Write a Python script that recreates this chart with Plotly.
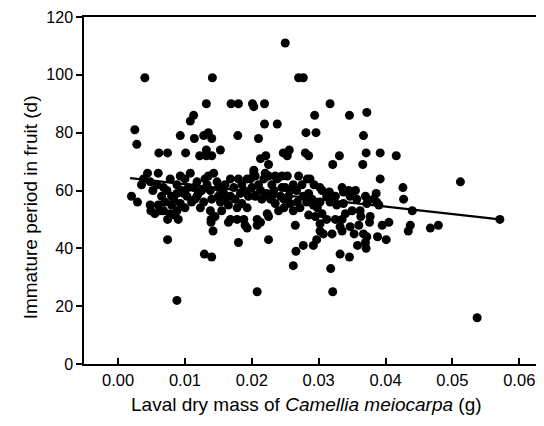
import plotly.graph_objects as go

# Scatter data: larval dry mass (g) vs immature period (d)
mass = [
    0.0040, 0.0141, 0.0250, 0.0270, 0.0277,
    0.0132, 0.0169, 0.0180, 0.0201, 0.0203, 0.0219, 0.0317,
    0.0113, 0.0108, 0.0294, 0.0346, 0.0372,
    0.0025, 0.0028, 0.0093, 0.0114, 0.0128, 0.0135, 0.0140, 0.0179, 0.0210, 0.0219, 0.0238, 0.0281, 0.0296, 0.0367,
    0.0061, 0.0074, 0.0101, 0.0122, 0.0132, 0.0132, 0.0140, 0.0153, 0.0221, 0.0213, 0.0225, 0.0247, 0.0256, 0.0253,
    0.0280, 0.0285, 0.0331, 0.0321, 0.0371, 0.0392, 0.0416, 0.0366,
    0.0203, 0.0203,
    0.0392, 0.0426, 0.0512, 0.0427, 0.0440,
    0.0020, 0.0029, 0.0074, 0.0088, 0.0129, 0.0140, 0.0180, 0.0225, 0.0208, 0.0265, 0.0266, 0.0262, 0.0277, 0.0292, 0.0297,
    0.0142, 0.0139, 0.0139, 0.0165, 0.0178, 0.0190, 0.0213, 0.0223, 0.0074, 0.0090, 0.0049, 0.0063, 0.0048, 0.0060,
    0.0318, 0.0321, 0.0537, 0.0571, 0.0332, 0.0346,
    0.0307, 0.0320, 0.0335, 0.0353, 0.0358, 0.0371, 0.0370, 0.0372, 0.0388, 0.0401, 0.0395, 0.0405, 0.0434, 0.0437, 0.0467, 0.0479,
    0.0370, 0.0386, 0.0390, 0.0377, 0.0376, 0.0363, 0.0360, 0.0387,
    0.0044, 0.0060, 0.0038, 0.0048, 0.0068, 0.0073, 0.0093, 0.0100, 0.0088, 0.0108, 0.0055, 0.0068,
    0.0065, 0.0080, 0.0088, 0.0095, 0.0103, 0.0110, 0.0093, 0.0100, 0.0088, 0.0085,
    0.0143, 0.0130, 0.0133, 0.0168, 0.0180, 0.0205, 0.0198, 0.0210, 0.0218, 0.0225, 0.0230, 0.0238, 0.0245,
    0.0113, 0.0125, 0.0138, 0.0150, 0.0158,
    0.0115, 0.0128, 0.0140, 0.0153,
    0.0168, 0.0175, 0.0185, 0.0178, 0.0193,
    0.0205, 0.0215, 0.0228, 0.0235, 0.0243, 0.0248,
    0.0123, 0.0138, 0.0155, 0.0145,
    0.0168, 0.0188, 0.0208, 0.0225, 0.0240,
    0.0193, 0.0208,
    0.0253, 0.0270, 0.0283, 0.0293, 0.0302, 0.0305,
    0.0245, 0.0257, 0.0267, 0.0277, 0.0290, 0.0248, 0.0257,
    0.0312, 0.0325, 0.0337, 0.0347, 0.0357, 0.0382, 0.0372, 0.0362, 0.0350, 0.0337, 0.0327, 0.0317, 0.0302,
    0.0262, 0.0272, 0.0285, 0.0295, 0.0305, 0.0312, 0.0302, 0.0325, 0.0335, 0.0332, 0.0347, 0.0367,
    0.0302,
    0.0135, 0.0193, 0.0220, 0.0235, 0.0287,
    0.0316, 0.0335, 0.0345, 0.0355,
    0.0058, 0.0078, 0.0083, 0.0118, 0.0148, 0.0160, 0.0173, 0.0188, 0.0195, 0.0213, 0.0222, 0.0233,
    0.0255, 0.0262, 0.0275, 0.0285, 0.0292, 0.0282, 0.0160, 0.0183, 0.0035, 0.0052, 0.0105, 0.0118,
    0.0080, 0.0078,
    0.0070, 0.0098, 0.0120, 0.0165, 0.0200, 0.0230, 0.0268, 0.0298, 0.0340, 0.0150, 0.0185, 0.0250,
]
period = [
    99, 99, 111, 99, 99,
    90, 90, 90, 90, 89, 90, 90,
    86, 84, 86, 86, 87,
    81, 76, 79, 78, 79, 80, 78, 79, 78, 83, 83, 80, 80, 79,
    73, 73, 73, 72, 72, 74, 72, 74, 72, 71, 69, 73, 74, 72,
    73, 72, 72, 69, 73, 73, 72, 69,
    67, 66,
    64, 61, 63, 57, 53,
    58, 56, 43, 22, 38, 37, 42, 43, 25, 48, 39, 34, 41, 41, 43,
    46, 49, 50, 49, 50, 48, 49, 52, 50, 50, 53, 53, 55, 55,
    33, 25, 16, 50, 38, 37,
    45, 45, 46, 45, 41, 40, 42, 44, 44, 43, 48, 49, 46, 48, 47, 48,
    58, 59, 55, 51, 49, 51, 48, 56,
    66, 66, 64, 63, 61, 60, 65, 64, 62, 66, 52, 53,
    58, 58, 59, 60, 58, 56, 55.5, 54, 53, 51.5,
    66, 64, 62, 64, 64, 65, 64, 62, 64, 65, 62, 64, 65,
    61, 60, 60, 61, 59,
    57, 56, 57, 56,
    58, 57, 55.5, 54, 54,
    58, 57, 57, 55.5, 58, 54,
    54, 53, 53, 51,
    50, 50, 50, 51, 53,
    47, 48,
    65, 65, 64, 62, 61, 60,
    61, 60, 60, 58, 57, 57, 55.5,
    58, 58, 59.5, 58, 57, 57, 55.5, 53, 53, 55.5, 55, 56, 56,
    53, 54, 51.5, 51, 52, 50, 48.5, 50, 50, 47.5, 47.5, 45,
    46,
    65, 64, 66, 65, 64,
    59.5, 61, 60, 60,
    62, 64, 57, 63, 63, 62, 61, 60, 58, 60, 59, 60,
    58, 62, 62, 59, 55, 56, 57, 59, 62, 60, 61, 58,
    55, 52,
    56, 59, 59, 55, 61, 58, 56, 54, 52, 58, 62, 61,
]

# Fitted regression line endpoints
fit_mass = [0.0018, 0.0571]
fit_period = [64.3, 50.0]

x_ticks = [0.00, 0.01, 0.02, 0.03, 0.04, 0.05, 0.06]
x_tick_labels = ["0.00", "0.01", "0.02", "0.03", "0.04", "0.05", "0.06"]
y_ticks = [0, 20, 40, 60, 80, 100, 120]

fig = go.Figure()
fig.add_trace(go.Scatter(
    x=mass, y=period, mode="markers",
    marker=dict(size=9, color="black", line=dict(width=0)),
    showlegend=False, cliponaxis=False,
))
fig.add_trace(go.Scatter(
    x=fit_mass, y=fit_period, mode="lines",
    line=dict(color="black", width=2.2),
    showlegend=False,
))

font = "Liberation Sans, Arial, sans-serif"
# page body has an 8px default margin; the figure is sized so that it fills the window
fig.update_layout(
    width=536, height=418,
    margin=dict(l=76, r=0, t=9, b=62, autoexpand=False),
    paper_bgcolor="white", plot_bgcolor="white",
    font=dict(family=font, size=16, color="black"),
    xaxis=dict(
        range=[-0.0051, 0.0637], automargin=False,
        tickvals=x_ticks, ticktext=x_tick_labels,
        ticks="inside", ticklen=6, tickwidth=1.5, tickcolor="black",
        showline=True, linecolor="black", linewidth=1.5, mirror=True,
        showgrid=False, zeroline=False,
        tickfont=dict(size=16.5, family=font),
    ),
    yaxis=dict(
        range=[0, 120], automargin=False,
        tickvals=y_ticks,
        ticks="outside", ticklen=6, tickwidth=1.5, tickcolor="black",
        showline=True, linecolor="black", linewidth=1.5, mirror=False,
        showgrid=False, zeroline=False,
        tickfont=dict(size=16, family=font),
    ),
    annotations=[
        dict(text="Laval dry mass of <i>Camellia meiocarpa</i> (g)",
             xref="paper", yref="paper", x=0.483, y=-0.118,
             xanchor="center", yanchor="middle", showarrow=False,
             font=dict(size=19, family=font)),
        dict(text="Immature period in fruit (d)",
             xref="paper", yref="paper", x=-0.117, y=0.452,
             xanchor="center", yanchor="middle", showarrow=False, textangle=-90,
             font=dict(size=19, family=font)),
    ],
)

fig.write_html("out.html")
